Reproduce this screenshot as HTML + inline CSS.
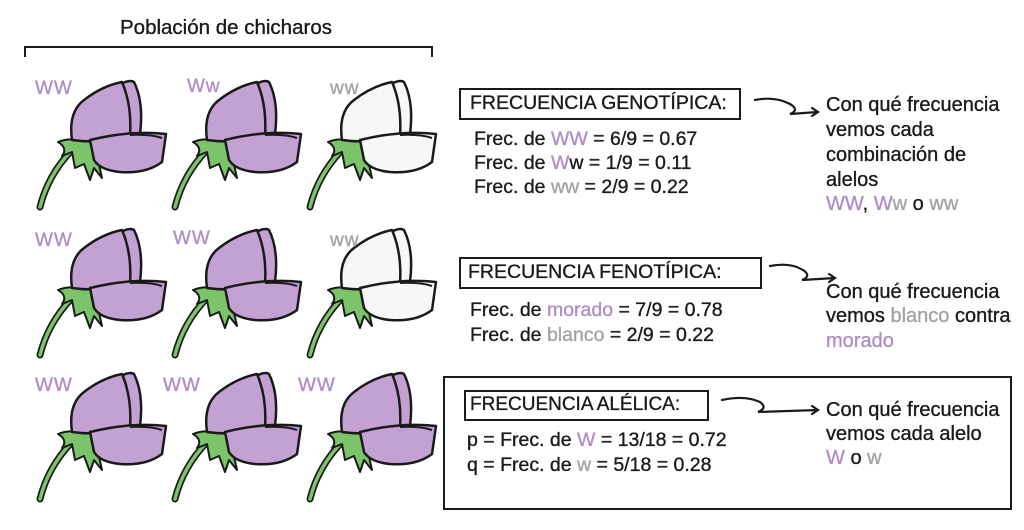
<!DOCTYPE html>
<html><head><meta charset="utf-8"><style>
body{margin:0;width:1024px;height:530px;background:#fff;overflow:hidden;position:relative;font-family:"Liberation Sans",sans-serif;color:#1a1a1a}
.t{position:absolute;font-size:19.5px;white-space:nowrap;line-height:22px;-webkit-text-stroke:0.35px #1a1a1a}
.r{font-size:20px}
.p{color:#b08cc8;-webkit-text-stroke:0.35px #b08cc8}.g{color:#a3a3a3;-webkit-text-stroke:0.35px #a3a3a3}
.box{position:absolute;border:2px solid #1a1a1a}
.lab{position:absolute;font-size:19px;letter-spacing:1px;font-family:"Liberation Sans",sans-serif}
</style></head><body>
<svg width="1024" height="530" style="position:absolute;left:0;top:0">
<defs>
<g id="stem">
<path d="M20 147 Q28 115 52 90" stroke="#1a1a1a" stroke-width="7" fill="none" stroke-linecap="round"/>
<path d="M20 147 Q28 115 52 90" stroke="#7cc46a" stroke-width="3.5" fill="none" stroke-linecap="round"/>
<path d="M38 82 Q48 78 58 80 L72 78 L78 100 L82 118 L74 108 L70 120 L64 104 L55 108 L52 92 L42 96 Q48 88 38 82Z" fill="#7cc46a" stroke="#1a1a1a" stroke-width="2" stroke-linejoin="round"/>
</g>
<g id="petals">
<path d="M92 30 Q108 18 114 22 Q124 42 120 74 L104 76Z" stroke="#1a1a1a" stroke-width="2.5" stroke-linejoin="round"/>
<path d="M52 80 Q48 52 64 40 Q82 26 102 22 Q112 45 110 76 Q80 84 52 80Z" stroke="#1a1a1a" stroke-width="2.5" stroke-linejoin="round"/>
<path d="M70 80 Q110 70 146 74 L142 102 Q126 114 100 112 Q80 110 74 100Z" stroke="#1a1a1a" stroke-width="2.5" stroke-linejoin="round"/>
<path d="M110 75 Q130 74 142 78" stroke="#1a1a1a" stroke-width="2" fill="none"/>
</g>
</defs>
<g fill="#c3a2d3">
<g transform="translate(20,60)"><use href="#stem"/><use href="#petals"/></g>
<g transform="translate(155,60)"><use href="#stem"/><use href="#petals"/></g>
<g transform="translate(290,60)" fill="#f7f7f7"><use href="#stem"/><use href="#petals"/></g>
<g transform="translate(20,208)"><use href="#stem"/><use href="#petals"/></g>
<g transform="translate(155,208)"><use href="#stem"/><use href="#petals"/></g>
<g transform="translate(290,208)" fill="#f7f7f7"><use href="#stem"/><use href="#petals"/></g>
<g transform="translate(20,352)"><use href="#stem"/><use href="#petals"/></g>
<g transform="translate(155,352)"><use href="#stem"/><use href="#petals"/></g>
<g transform="translate(290,352)"><use href="#stem"/><use href="#petals"/></g>
</g>
<path d="M25 57 L25 47 L432 47 L432 57" stroke="#1a1a1a" stroke-width="2" fill="none"/>
<g stroke="#1a1a1a" stroke-width="2.2" fill="none" stroke-linecap="round">
<path d="M755 100 Q775 96 790 104 Q800 110 790 114 L818 112 M812 108 L818 112 L812 116"/>
<path d="M770 266 Q790 262 803 270 Q812 276 802 280 L835 278 M829 274 L835 278 L829 282"/>
<path d="M722 400 Q745 395 760 402 Q768 408 758 412 L818 410 M812 406 L818 410 L812 414"/>
</g>
</svg>
<div class="t" style="left:120px;top:17px;font-size:20.5px">Población de chicharos</div>
<div class="lab p" style="left:35px;top:78px">WW</div>
<div class="lab p" style="left:187px;top:76px">Ww</div>
<div class="lab g" style="left:330px;top:78px">ww</div>
<div class="lab p" style="left:35px;top:230px">WW</div>
<div class="lab p" style="left:173px;top:228px">WW</div>
<div class="lab g" style="left:330px;top:230px">ww</div>
<div class="lab p" style="left:35px;top:375px">WW</div>
<div class="lab p" style="left:163px;top:375px">WW</div>
<div class="lab p" style="left:298px;top:375px">WW</div>

<div class="box" style="left:459px;top:88px;width:278px;height:28px"></div>
<div class="t" style="left:470px;top:92px;font-size:19.5px">FRECUENCIA GENOTÍPICA:</div>
<div class="t" style="left:474px;top:128px">Frec. de <span class="p">WW</span> = 6/9 = 0.67</div>
<div class="t" style="left:474px;top:152px">Frec. de <span class="p">W</span>w = 1/9 = 0.11</div>
<div class="t" style="left:474px;top:176px">Frec. de <span class="g">ww</span> = 2/9 = 0.22</div>
<div class="t r" style="left:826px;top:94px">Con qué frecuencia</div>
<div class="t r" style="left:826px;top:119px">vemos cada</div>
<div class="t r" style="left:826px;top:144px">combinación de</div>
<div class="t r" style="left:826px;top:169px">alelos</div>
<div class="t r" style="left:826px;top:193px"><span class="p">WW</span>, <span class="p">W</span><span class="g">w</span> o <span class="g">ww</span></div>

<div class="box" style="left:459px;top:257px;width:299px;height:28px"></div>
<div class="t" style="left:468px;top:261px;font-size:19.5px">FRECUENCIA FENOTÍPICA:</div>
<div class="t" style="left:470px;top:299px">Frec. de <span class="p">morado</span> = 7/9 = 0.78</div>
<div class="t" style="left:470px;top:324px">Frec. de <span class="g">blanco</span> = 2/9 = 0.22</div>
<div class="t r" style="left:826px;top:281px">Con qué frecuencia</div>
<div class="t r" style="left:826px;top:305px">vemos <span class="g">blanco</span> contra</div>
<div class="t r" style="left:826px;top:330px"><span class="p">morado</span></div>

<div class="box" style="left:443px;top:376px;width:565px;height:130px"></div>
<div class="box" style="left:464px;top:390px;width:241px;height:27px"></div>
<div class="t" style="left:470px;top:394px;font-size:19px">FRECUENCIA ALÉLICA:</div>
<div class="t" style="left:467px;top:429px">p = Frec. de <span class="p">W</span> = 13/18 = 0.72</div>
<div class="t" style="left:467px;top:454px">q = Frec. de <span class="g">w</span> = 5/18 = 0.28</div>
<div class="t r" style="left:826px;top:399px">Con qué frecuencia</div>
<div class="t r" style="left:826px;top:423px">vemos cada alelo</div>
<div class="t r" style="left:826px;top:447px"><span class="p">W</span> o <span class="g">w</span></div>
</body></html>
